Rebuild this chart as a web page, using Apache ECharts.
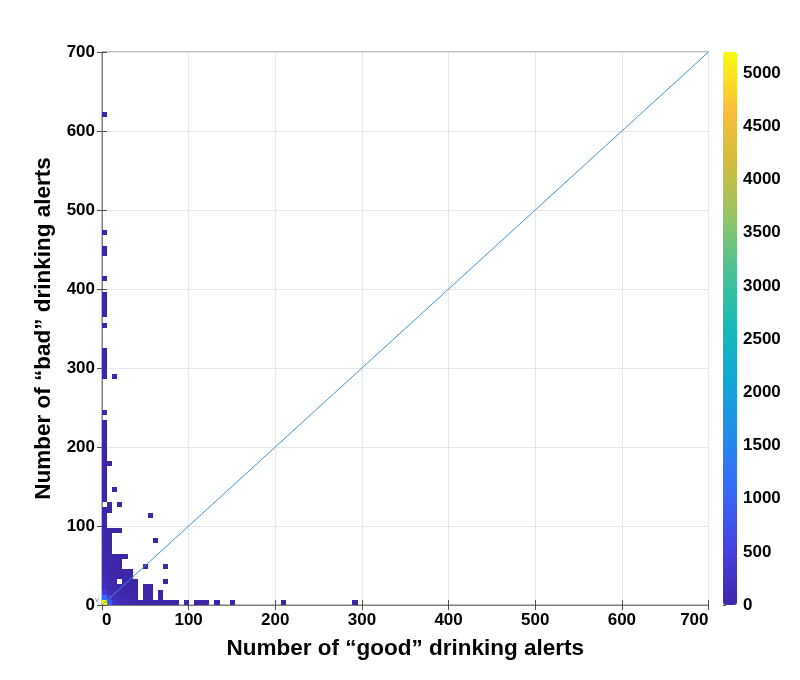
<!DOCTYPE html>
<html>
<head>
<meta charset="utf-8">
<script src="https://cdn.jsdelivr.net/npm/echarts@6/dist/echarts.min.js"></script>
<style>html,body{margin:0;padding:0;background:#fff;}#chart{width:800px;height:680px;}</style>
</head>
<body>
<div id="chart"></div>
<script>
// ---- data ----
const xTitle = 'Number of \u201cgood\u201d drinking alerts';
const yTitle = 'Number of \u201cbad\u201d drinking alerts';
const axisTicks = [0, 100, 200, 300, 400, 500, 600, 700];
const colorbarTicks = [0, 500, 1000, 1500, 2000, 2500, 3000, 3500, 4000, 4500, 5000];
const countMax = 5200;
const binWidthGood = 5.9;   // histogram bin width (good alerts)
const binWidthBad = 6.5;    // histogram bin width (bad alerts)
// [good bin index, bad bin index, count]
const histCells = [
  // row 0
  [0,0,5200],[1,0,900],[2,0,260],[3,0,140],[4,0,90],[5,0,60],[6,0,40],[7,0,25],[8,0,20],[9,0,14],
  [10,0,10],[11,0,8],[12,0,5],[13,0,4],[14,0,3],[16,0,2],[18,0,1],[19,0,2],[20,0,1],[22,0,1],
  [25,0,1],[35,0,1],[49,0,1],
  // row 1
  [0,1,1100],[1,1,420],[2,1,180],[3,1,90],[4,1,50],[5,1,30],[6,1,12],[8,1,4],[9,1,3],[11,1,2],
  // row 2
  [0,2,380],[1,2,160],[2,2,70],[3,2,40],[4,2,20],[5,2,10],[6,2,5],[8,2,3],[9,2,2],[11,2,1],
  // row 3
  [0,3,200],[1,3,90],[2,3,40],[3,3,20],[4,3,10],[5,3,6],[6,3,3],[8,3,2],[9,3,1],
  // row 4
  [0,4,130],[1,4,50],[2,4,20],[4,4,5],[5,4,3],[6,4,2],[12,4,1],
  // row 5
  [0,5,90],[1,5,35],[2,5,12],[3,5,6],[4,5,3],[5,5,1],
  // row 6
  [0,6,70],[1,6,25],[2,6,10],[3,6,4],[4,6,2],[5,6,1],
  // row 7
  [0,7,55],[1,7,18],[2,7,7],[3,7,3],[8,7,1],[12,7,1],
  // row 8
  [0,8,45],[1,8,14],[2,8,5],[3,8,2],
  // row 9
  [0,9,38],[1,9,11],[2,9,4],[3,9,2],[4,9,1],
  // rows 10-14
  [0,10,30],[1,10,8],
  [0,11,26],[1,11,6],
  [0,12,22],[1,12,5],[10,12,1],
  [0,13,19],[1,13,4],
  [0,14,16],[1,14,4],[2,14,2],[3,14,1],
  // rows 15-35
  [0,15,14],[0,16,12],[0,17,10],[9,17,1],[0,18,9],[1,18,1],[1,19,1],[3,19,1],
  [0,20,7],[0,21,6],[0,22,6],[2,22,1],[0,23,5],[0,24,5],[0,25,4],[0,26,4],
  [0,27,3],[1,27,1],[0,28,3],[0,29,3],[0,30,2],[0,31,2],[0,32,2],[0,33,2],[0,34,2],[0,35,1],
  // sparse high values
  [0,37,1],[0,44,1],[2,44,1],[0,45,1],[0,46,1],[0,47,1],[0,48,1],[0,49,1],
  [0,54,1],[0,56,1],[0,57,1],[0,58,1],[0,59,1],[0,60,1],[0,63,1],
  [0,68,1],[0,69,1],[0,72,1],[0,95,1]
];
const diagonal = [[0, 0], [700, 700]];
const parula = ['#3E26A8','#4741E2','#3867F8','#2588EC','#12A5D8','#14BAB8','#45C297','#94C466','#D3BB3E','#FCC038','#F9FB0E'];

// build series data from the arrays
const cellData = histCells.map(c => [c[0] * binWidthGood, c[1] * binWidthBad, c[2]]);

const chart = echarts.init(document.getElementById('chart'), null, {renderer: 'canvas'});
const FONT = 'Liberation Sans, Arial, sans-serif';
const tickLabel = {fontFamily: FONT, fontWeight: 'bold', fontSize: 17, color: '#000'};

const option = {
  backgroundColor: '#fff',
  animation: false,
  grid: [
    {left: 102, right: 91.5, top: 52, bottom: 75, show: true, borderColor: '#7f7f7f', borderWidth: 1, containLabel: false},
    {left: 723, width: 14, top: 52, height: 553, show: false}
  ],
  xAxis: [
    {
      type: 'value', gridIndex: 0, min: axisTicks[0], max: axisTicks[axisTicks.length - 1], interval: 100,
      name: xTitle, nameLocation: 'middle', nameGap: 32,
      nameTextStyle: {fontFamily: FONT, fontWeight: 'bold', fontSize: 22.5, color: '#000'},
      axisLine: {show: true, lineStyle: {color: '#7f7f7f'}},
      axisTick: {show: true, inside: true, length: 5, lineStyle: {color: '#4d4d4d'}},
      axisLabel: Object.assign({margin: 7, alignMinLabel: 'left', alignMaxLabel: 'right'}, tickLabel),
      splitLine: {show: true, lineStyle: {color: '#e6e6e6', width: 1}}
    },
    {
      type: 'value', gridIndex: 0, position: 'top', min: 0, max: 700, interval: 100,
      axisLine: {show: true, lineStyle: {color: '#7f7f7f'}},
      axisTick: {show: true, inside: true, length: 5, lineStyle: {color: '#4d4d4d'}},
      axisLabel: {show: false}, splitLine: {show: false}
    },
    {type: 'value', gridIndex: 1, show: false, min: 0, max: 1}
  ],
  yAxis: [
    {
      type: 'value', gridIndex: 0, min: axisTicks[0], max: axisTicks[axisTicks.length - 1], interval: 100,
      name: yTitle, nameLocation: 'middle', nameGap: 46, nameRotate: 90,
      nameTextStyle: {fontFamily: FONT, fontWeight: 'bold', fontSize: 22.5, color: '#000'},
      axisLine: {show: true, lineStyle: {color: '#7f7f7f'}},
      axisTick: {show: true, inside: true, length: 5, lineStyle: {color: '#4d4d4d'}},
      axisLabel: Object.assign({margin: 7}, tickLabel),
      splitLine: {show: true, lineStyle: {color: '#e6e6e6', width: 1}}
    },
    {
      type: 'value', gridIndex: 0, position: 'right', min: 0, max: 700, interval: 100,
      axisLine: {show: true, lineStyle: {color: '#7f7f7f'}},
      axisTick: {show: true, inside: true, length: 5, lineStyle: {color: '#4d4d4d'}},
      axisLabel: {show: false}, splitLine: {show: false}
    },
    {
      type: 'value', gridIndex: 1, position: 'right', min: 0, max: countMax, interval: 500,
      axisLine: {show: false},
      axisTick: {show: true, inside: false, length: 3, lineStyle: {color: '#4d4d4d'}},
      axisLabel: Object.assign({margin: 6, showMaxLabel: false,
        formatter: v => (colorbarTicks.indexOf(v) >= 0 ? String(v) : '')}, tickLabel),
      splitLine: {show: false}
    }
  ],
  visualMap: {
    type: 'continuous', seriesIndex: 0, dimension: 2, min: 0, max: countMax,
    left: 723, top: 52, itemWidth: 14, itemHeight: 553, padding: 0,
    calculable: false, hoverLink: false, text: null, showLabel: false,
    inRange: {color: parula}
  },
  series: [
    {
      type: 'custom', xAxisIndex: 0, yAxisIndex: 0, clip: true,
      encode: {x: 0, y: 1},
      data: cellData,
      renderItem: function (params, api) {
        const gx = api.value(0), by = api.value(1);
        const p0 = api.coord([gx, by + binWidthBad]);
        const p1 = api.coord([gx + binWidthGood, by]);
        const x0 = Math.round(p0[0]), y0 = Math.round(p0[1]);
        const x1 = Math.round(p1[0]), y1 = Math.round(p1[1]);
        return {type: 'rect', shape: {x: x0, y: y0, width: x1 - x0, height: y1 - y0},
                style: {fill: api.visual('color'), stroke: null}};
      },
      z: 2
    },
    {
      type: 'line', xAxisIndex: 0, yAxisIndex: 0, data: diagonal, symbol: 'none',
      lineStyle: {color: '#4393c9', width: 1}, z: 3, silent: true
    }
  ],
  graphic: [
    {type: 'text', left: 95, top: 596, style: {text: 'v', fontSize: 8, fill: '#888', fontFamily: FONT}}
  ]
};
chart.setOption(option);
</script>
</body>
</html>
